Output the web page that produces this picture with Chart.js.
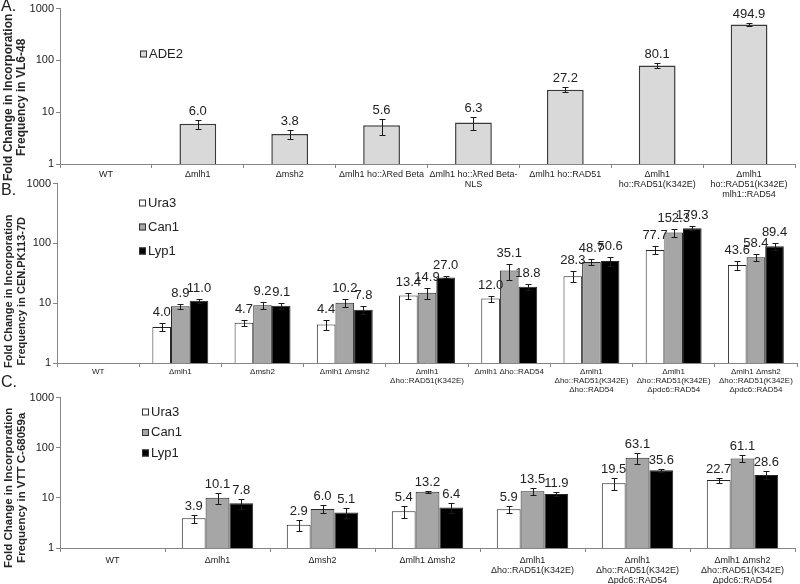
<!DOCTYPE html>
<html>
<head>
<meta charset="utf-8">
<script src="https://cdn.jsdelivr.net/npm/chart.js@4.4.1/dist/chart.umd.min.js"></script>
<style>
body{margin:0;background:#fff;}
#wrap{position:relative;width:800px;height:584px;overflow:hidden;font-family:"Liberation Sans",Arial,sans-serif;}
canvas{position:absolute;left:0;}
.tag{position:absolute;left:1px;font-size:16px;line-height:16px;color:#222;}
</style>
</head>
<body>
<div id="wrap">
<canvas id="chartA" width="800" height="200" style="top:0"></canvas>
<canvas id="chartB" width="800" height="224" style="top:175px"></canvas>
<canvas id="chartC" width="800" height="195" style="top:389px"></canvas>
<div class="tag" style="top:-2px">A.</div>
<div class="tag" style="top:182px">B.</div>
<div class="tag" style="top:374px">C.</div>
</div>
<script>
// y ticks shared by all three panels (log scale)
let yTicks=[1,10,100,1000];

// panel A - VL6-48
let catsA=["WT","Δmlh1","Δmsh2","Δmlh1 ho::λRed Beta",["Δmlh1 ho::λRed Beta-","NLS"],
  "Δmlh1 ho::RAD51",["Δmlh1","ho::RAD51(K342E)"],["Δmlh1","ho::RAD51(K342E)","mlh1::RAD54"]];
let ade2=[1,6.0,3.8,5.6,6.3,27.2,80.1,494.9];
let ade2Err=[0,1.2,0.8,1.9,1.7,3.0,9,35];

// panel B - CEN.PK113-7D
let catsB=["WT","Δmlh1","Δmsh2","Δmlh1 Δmsh2",["Δmlh1","Δho::RAD51(K342E)"],"Δmlh1 Δho::RAD54",
  ["Δmlh1","Δho::RAD51(K342E)","Δho::RAD54"],["Δmlh1","Δho::RAD51(K342E)","Δpdc6::RAD54"],
  ["Δmlh1 Δmsh2","Δho::RAD51(K342E)","Δpdc6::RAD54"]];
let ura3B=[1,4.0,4.7,4.4,13.4,12.0,28.3,77.7,43.6];
let ura3BErr=[0,0.6,0.6,0.8,1.6,1.4,6,12,7.5];
let can1B=[1,8.9,9.2,10.2,14.9,35.1,48.7,152.3,58.4];
let can1BErr=[0,0.8,1.2,1.6,3,11,5.5,25,7];
let lyp1B=[1,11.0,9.1,7.8,27.0,18.8,50.6,179.3,89.4];
let lyp1BErr=[0,0.9,1.0,1.1,1,2,8,14,13];

// panel C - VTT C-68059a
let catsC=["WT","Δmlh1","Δmsh2","Δmlh1 Δmsh2",["Δmlh1","Δho::RAD51(K342E)"],
  ["Δmlh1","Δho::RAD51(K342E)","Δpdc6::RAD54"],["Δmlh1 Δmsh2","Δho::RAD51(K342E)","Δpdc6::RAD54"]];
let ura3C=[1,3.9,2.9,5.4,5.9,19.5,22.7];
let ura3CErr=[0,0.7,0.7,1.4,0.9,5,2.5];
let can1C=[1,10.1,6.0,13.2,13.5,63.1,61.1];
let can1CErr=[0,2.5,1.1,0.7,2,15,10];
let lyp1C=[1,7.8,5.1,6.4,11.9,35.6,28.6];
let lyp1CErr=[0,1.8,1.2,1.5,1.2,2.5,5];

let FONT="'Liberation Sans', Arial, sans-serif";

// error bars, value labels, y title and the little legend
let extras={
  id:"extras",
  afterDatasetsDraw(chart,args,opts){
    let ctx=chart.ctx;
    let y=chart.scales.y;
    chart.data.datasets.forEach(function(ds,di){
      let meta=chart.getDatasetMeta(di);
      meta.data.forEach(function(bar,i){
        let v=ds.data[i];
        if(v<=1) return;
        let e=ds.errors[i];
        let top=Math.round(y.getPixelForValue(v+e))+0.5;
        let bot=Math.round(y.getPixelForValue(v-e))+0.5;
        let x=Math.round(bar.x)+0.5;
        ctx.save();
        ctx.strokeStyle="#1a1a1a";
        ctx.lineWidth=1;
        ctx.beginPath();
        ctx.moveTo(x,top);ctx.lineTo(x,bot);
        ctx.moveTo(x-opts.cap,top);ctx.lineTo(x+opts.cap,top);
        ctx.moveTo(x-opts.cap,bot);ctx.lineTo(x+opts.cap,bot);
        ctx.stroke();
        ctx.fillStyle="#222";
        ctx.font="13px "+FONT;
        ctx.textAlign="center";
        ctx.textBaseline="bottom";
        ctx.fillText(v.toFixed(1),bar.x,top-opts.gap);
        ctx.restore();
      });
    });
  },
  afterDraw(chart,args,opts){
    let ctx=chart.ctx;
    let area=chart.chartArea;
    ctx.save();
    ctx.font="13px "+FONT;
    ctx.textBaseline="middle";
    chart.data.datasets.forEach(function(ds,i){
      let ly=opts.legY+i*opts.legGap;
      ctx.fillStyle=ds.backgroundColor;
      ctx.fillRect(opts.legX,ly-3.5,7,7);
      ctx.strokeStyle="#333";
      ctx.lineWidth=1;
      ctx.strokeRect(opts.legX+0.5,ly-3,6,6);
      ctx.fillStyle="#222";
      ctx.fillText(ds.label,opts.legX+9,ly);
    });
    // rotated two-line y title, sitting a little below the plot centre like the original
    ctx.translate(0,(area.top+area.bottom)/2+opts.titleShift);
    ctx.rotate(-Math.PI/2);
    ctx.font="bold "+opts.titleSize+"px "+FONT;
    ctx.textAlign="center";
    ctx.fillStyle="#262626";
    opts.title.forEach(function(t,k){ctx.fillText(t,0,9+k*13);});
    ctx.restore();
  }
};
Chart.register(extras);

function makePanel(id,labels,sets,o){
  return new Chart(document.getElementById(id),{
    type:"bar",
    data:{labels:labels,datasets:sets},
    options:{
      responsive:false,
      animation:false,
      layout:{padding:{top:7,right:o.right,left:0,bottom:0}},
      plugins:{
        legend:{display:false},
        tooltip:{enabled:false},
        extras:{cap:3,gap:o.gap,legX:o.legX,legY:o.legY,legGap:o.legGap,
          title:["Fold Change in Incorporation",o.title],titleShift:o.shift,titleSize:o.tsize}
      },
      scales:{
        x:{
          grid:{drawOnChartArea:false,offset:true,color:"#868686",tickLength:4},
          border:{color:"#868686"},
          ticks:{color:"#222",font:{family:FONT,size:o.catSize,lineHeight:1.15},
            maxRotation:0,autoSkip:false,padding:o.catPad},
          afterFit:function(axis){axis.height=36;}
        },
        y:{
          type:"logarithmic",
          min:1,max:1000,
          grid:{drawOnChartArea:false,color:"#868686",tickLength:4},
          border:{color:"#868686"},
          ticks:{color:"#222",font:{family:FONT,size:11},padding:2,
            callback:function(v){return String(v);}},
          afterBuildTicks:function(axis){axis.ticks=yTicks.map(function(v){return {value:v};});},
          afterFit:function(axis){axis.width=o.yw;}
        }
      }
    }
  });
}

function threeSets(u,ue,c,ce,l,le){
  let common={borderColor:"#262626",borderWidth:1,barPercentage:1,categoryPercentage:0.68};
  return [
    Object.assign({label:"Ura3",data:u,errors:ue,backgroundColor:"#ffffff"},common),
    Object.assign({label:"Can1",data:c,errors:ce,backgroundColor:"#a6a6a6"},common),
    Object.assign({label:"Lyp1",data:l,errors:le,backgroundColor:"#000000"},common)
  ];
}

makePanel("chartA",catsA,[{label:"ADE2",data:ade2,errors:ade2Err,backgroundColor:"#d9d9d9",
  borderColor:"#3a3a3a",borderWidth:1.5,barPercentage:0.4,categoryPercentage:1}],
  {right:5,yw:60,gap:3,catSize:9,catPad:1,legX:140,legY:54,legGap:0,shift:11,tsize:12,title:"Frequency in VL6-48"});

makePanel("chartB",catsB,threeSets(ura3B,ura3BErr,can1B,can1BErr,lyp1B,lyp1BErr),
  {right:3,yw:57,gap:5,catSize:8,catPad:0,legX:139,legY:28,legGap:24,shift:18,tsize:11,title:"Frequency in CEN.PK113-7D"});

makePanel("chartC",catsC,threeSets(ura3C,ura3CErr,can1C,can1CErr,lyp1C,lyp1CErr),
  {right:5,yw:60,gap:3,catSize:9,catPad:3,legX:142,legY:23,legGap:20.5,shift:15,tsize:11.5,title:"Frequency in VTT C-68059a"});
</script>
</body>
</html>
